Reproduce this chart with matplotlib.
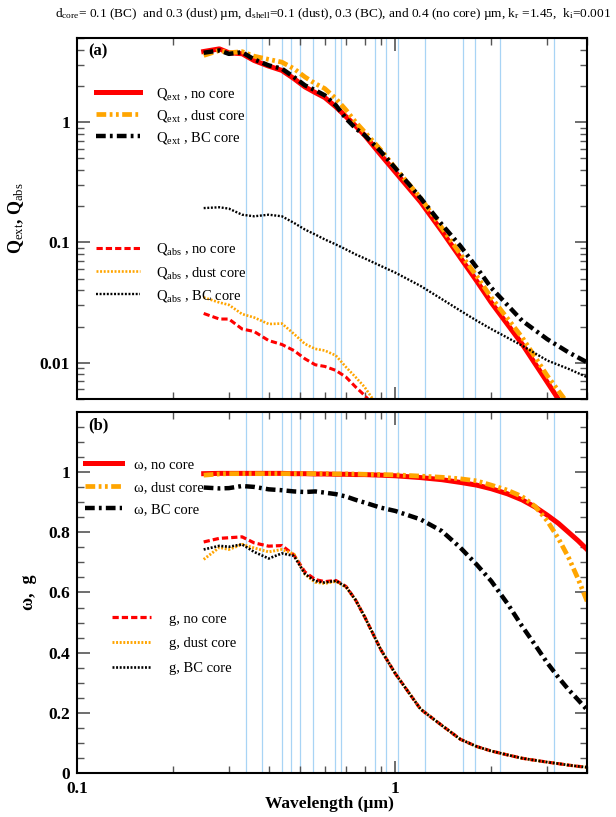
import numpy as np
import matplotlib
matplotlib.use("Agg")
import matplotlib.pyplot as plt
from matplotlib.ticker import LogLocator, FuncFormatter, MultipleLocator, NullFormatter

plt.rcParams['font.family'] = ['Liberation Serif', 'DejaVu Serif']
plt.rcParams['mathtext.fontset'] = 'custom'
plt.rcParams['mathtext.rm'] = 'Liberation Serif'
plt.rcParams['mathtext.it'] = 'Liberation Serif:italic'
plt.rcParams['mathtext.bf'] = 'Liberation Serif:bold'
plt.rcParams['lines.scale_dashes'] = False

# ---- data ----
wl_a = [0.25, 0.28, 0.30, 0.33, 0.36, 0.40, 0.44, 0.48, 0.52, 0.56, 0.60, 0.65, 0.70,
        0.75, 0.80, 0.90, 1.0, 1.2, 1.4, 1.6, 1.8, 2.0, 2.5, 3.0, 3.5, 4.0]

qext_nocore = [3.86, 4.06, 3.77, 3.70, 3.25, 2.92, 2.69, 2.30, 1.96, 1.76, 1.60, 1.34, 1.11,
               0.93, 0.78, 0.534, 0.384, 0.217, 0.124, 0.0747, 0.0479, 0.0317, 0.01435,
               0.0069, 0.0037, 0.0022]
qext_dust = [3.58, 3.94, 3.77, 3.85, 3.53, 3.32, 3.15, 2.78, 2.37, 2.09, 1.90, 1.57, 1.26,
             1.00, 0.83, 0.587, 0.414, 0.234, 0.132, 0.080, 0.0527, 0.0349, 0.0163,
             0.0078, 0.0045, 0.0027]
qext_bc = [3.77, 3.94, 3.69, 3.81, 3.32, 2.96, 2.78, 2.37, 2.02, 1.84, 1.67, 1.38, 1.07,
           0.887, 0.781, 0.57, 0.414, 0.234, 0.141, 0.0935, 0.062, 0.042, 0.0224,
           0.0157, 0.0122, 0.0101]
qabs_nocore = [0.0257, 0.0231, 0.0231, 0.0191, 0.0182, 0.0153, 0.0142, 0.01265, 0.0108,
               0.00963, 0.00933, 0.00865, 0.0076, 0.0063, 0.00537, 0.0038, 0.0028, 0.0016,
               0.001, 0.0007, 0.0005, 0.0004, 0.0003, 0.0002, 0.00015, 0.0001]
qabs_dust = [0.0349, 0.0317, 0.0303, 0.0254, 0.0238, 0.0210, 0.0212, 0.0174, 0.01435,
             0.01305, 0.01265, 0.0115, 0.0092, 0.0076, 0.0063, 0.0040, 0.0030, 0.0017,
             0.0011, 0.0008, 0.0006, 0.0005, 0.0003, 0.0002, 0.00015, 0.0001]
qabs_bc = [0.193, 0.196, 0.191, 0.170, 0.165, 0.170, 0.165, 0.1455, 0.128, 0.1164, 0.106,
           0.0963, 0.0875, 0.0796, 0.0738, 0.0638, 0.0561, 0.0435, 0.0338, 0.0271, 0.0224,
           0.0191, 0.0139, 0.01045, 0.0089, 0.0076]

wl_b = [0.25, 0.28, 0.30, 0.33, 0.36, 0.40, 0.44, 0.48, 0.52, 0.56, 0.60, 0.65, 0.70,
        0.75, 0.80, 0.90, 1.0, 1.2, 1.4, 1.6, 1.8, 2.0, 2.25, 2.5, 2.75, 3.0, 3.25, 3.5,
        3.75, 4.0]

w_nocore = [0.995, 0.996, 0.996, 0.996, 0.996, 0.996, 0.996, 0.995, 0.995, 0.994, 0.994,
            0.993, 0.993, 0.992, 0.992, 0.990, 0.988, 0.982, 0.975, 0.966, 0.957, 0.945,
            0.928, 0.908, 0.884, 0.857, 0.83, 0.80, 0.772, 0.743]
w_dust = [0.99, 0.994, 0.995, 0.995, 0.995, 0.995, 0.995, 0.995, 0.995, 0.995, 0.995,
          0.994, 0.994, 0.994, 0.993, 0.992, 0.991, 0.987, 0.983, 0.978, 0.971, 0.957,
          0.94, 0.919, 0.886, 0.838, 0.78, 0.716, 0.645, 0.571]
w_bc = [0.949, 0.946, 0.947, 0.954, 0.951, 0.943, 0.94, 0.936, 0.934, 0.936, 0.932, 0.927,
        0.919, 0.908, 0.899, 0.882, 0.871, 0.843, 0.804, 0.749, 0.693, 0.638, 0.563, 0.488,
        0.425, 0.366, 0.318, 0.277, 0.243, 0.21]
g_nocore = [0.768, 0.78, 0.782, 0.785, 0.765, 0.754, 0.756, 0.725, 0.668, 0.643, 0.636,
            0.64, 0.62, 0.575, 0.52, 0.41, 0.33, 0.212, 0.158, 0.112, 0.088, 0.073, 0.06,
            0.049, 0.042, 0.036, 0.031, 0.026, 0.022, 0.019]
g_dust = [0.71, 0.75, 0.743, 0.76, 0.748, 0.735, 0.743, 0.728, 0.66, 0.634, 0.63, 0.637,
          0.618, 0.575, 0.52, 0.41, 0.33, 0.212, 0.158, 0.112, 0.088, 0.073, 0.06, 0.049,
          0.042, 0.036, 0.031, 0.026, 0.022, 0.019]
g_bc = [0.743, 0.755, 0.752, 0.76, 0.735, 0.713, 0.73, 0.722, 0.662, 0.638, 0.633, 0.639,
        0.619, 0.575, 0.52, 0.41, 0.33, 0.212, 0.158, 0.112, 0.088, 0.073, 0.06, 0.049,
        0.042, 0.036, 0.031, 0.026, 0.022, 0.019]

# satellite channel wavelengths (um)
bands = [0.34, 0.38, 0.44, 0.47, 0.50, 0.55, 0.645, 0.675, 0.86, 0.935, 1.02, 1.24,
         1.63, 1.78, 2.13, 3.16]

RED = '#ff0000'
ORANGE = '#ffa500'
BLUE = '#a8d4f5'

solid = dict(ls='-')
dashdotdot = dict(dashes=(7, 2.5, 2, 2.5, 2, 2.5))
dashdot = dict(dashes=(7, 3, 2, 3))
dashed = dict(dashes=(4.5, 2.2))
dotted = dict(dashes=(1.4, 1.2))

fig = plt.figure(figsize=(6.16, 8.17), dpi=100)
ax1 = fig.add_axes([0.125, 0.5116, 0.828, 0.4419])
ax2 = fig.add_axes([0.125, 0.0539, 0.828, 0.4418])

for ax in (ax1, ax2):
    for b in bands:
        ax.axvline(b, color=BLUE, lw=0.9, zorder=1)

h1 = ax1.plot(wl_a, qext_nocore, color=RED, lw=3.6, **solid, label=r'Q$_{\rm ext}$ , no core')
h2 = ax1.plot(wl_a, qext_dust, color=ORANGE, lw=3.4, **dashdotdot, label=r'Q$_{\rm ext}$ , dust core')
h3 = ax1.plot(wl_a, qext_bc, color='k', lw=3.2, **dashdot, label=r'Q$_{\rm ext}$ , BC core')
h4 = ax1.plot(wl_a, qabs_nocore, color=RED, lw=2.2, **dashed, label=r'Q$_{\rm abs}$ , no core')
h5 = ax1.plot(wl_a, qabs_dust, color=ORANGE, lw=1.9, **dotted, label=r'Q$_{\rm abs}$ , dust core')
h6 = ax1.plot(wl_a, qabs_bc, color='k', lw=1.7, **dotted, label=r'Q$_{\rm abs}$ , BC core')

k1 = ax2.plot(wl_b, w_nocore, color=RED, lw=3.6, **solid, label='ω, no core')
k2 = ax2.plot(wl_b, w_dust, color=ORANGE, lw=3.4, **dashdotdot, label='ω, dust core')
k3 = ax2.plot(wl_b, w_bc, color='k', lw=3.2, **dashdot, label='ω, BC core')
k4 = ax2.plot(wl_b, g_nocore, color=RED, lw=2.3, **dashed, label='g, no core')
k5 = ax2.plot(wl_b, g_dust, color=ORANGE, lw=2.1, **dotted, label='g, dust core')
k6 = ax2.plot(wl_b, g_bc, color='k', lw=1.9, **dotted, label='g, BC core')

fmt = FuncFormatter(lambda v, p: '%g' % v)
fmt_b = FuncFormatter(lambda v, p: '' if v > 1.1 else '%g' % round(v, 2))
for ax in (ax1, ax2):
    ax.set_xscale('log')
    ax.set_xlim(0.1, 4.0)
    ax.xaxis.set_major_locator(LogLocator(base=10))
    ax.xaxis.set_minor_locator(LogLocator(base=10, subs=np.arange(2, 10)))
    ax.xaxis.set_major_formatter(fmt)
    ax.xaxis.set_minor_formatter(NullFormatter())
    ax.tick_params(which='both', direction='in', top=True, right=True, color='#555555')
    ax.tick_params(which='major', length=9, width=1.2, labelsize=12.5, pad=5)
    ax.tick_params(which='minor', length=5, width=1.0)
    for s in ax.spines.values():
        s.set_linewidth(1.5)

ax1.set_yscale('log')
ax1.set_ylim(0.005, 5)
ax1.yaxis.set_major_locator(LogLocator(base=10))
ax1.yaxis.set_minor_locator(LogLocator(base=10, subs=np.arange(2, 10)))
ax1.yaxis.set_major_formatter(fmt)
ax1.yaxis.set_minor_formatter(NullFormatter())
ax1.tick_params(axis='x', labelbottom=False)

ax2.set_ylim(0, 1.2)
ax2.yaxis.set_major_locator(MultipleLocator(0.2))
ax2.yaxis.set_minor_locator(MultipleLocator(0.05))
ax2.yaxis.set_major_formatter(fmt_b)
ax2.tick_params(axis='x', which='major', pad=6)

for ax in (ax1, ax2):
    for lab in ax.get_xticklabels() + ax.get_yticklabels():
        lab.set_fontweight('bold')

ax1.set_ylabel(r'Q$_{\rm ext}$, Q$_{\rm abs}$', fontsize=13, fontweight='bold', labelpad=10)
ax2.set_ylabel('ω,  g', fontsize=13, fontweight='bold', labelpad=8)
ax2.set_xlabel('Wavelength (µm)', fontsize=12.5, fontweight='bold')
ax2.xaxis.set_label_coords(0.495, -0.064)

ax1.text(0.022, 0.985, '(a)', transform=ax1.transAxes, fontsize=12, fontweight='bold', va='top')
ax2.text(0.022, 0.985, '(b)', transform=ax2.transAxes, fontsize=12, fontweight='bold', va='top')

leg_kw = dict(frameon=False, fontsize=10.5, handlelength=3.0, handletextpad=1.1,
              labelspacing=0.55, borderpad=0, borderaxespad=0, loc='upper left')
la = ax1.legend(handles=h1 + h2 + h3, bbox_to_anchor=(0.038, 0.868),
                **dict(leg_kw, labelspacing=0.42))
ax1.add_artist(la)
ax1.legend(handles=h4 + h5 + h6, bbox_to_anchor=(0.038, 0.437),
           **dict(leg_kw, labelspacing=0.5))

lb = ax2.legend(handles=k1 + k2 + k3, bbox_to_anchor=(0.016, 0.872),
                **dict(leg_kw, handlelength=2.55, handletextpad=0.8, labelspacing=0.64))
ax2.add_artist(lb)
ax2.legend(handles=k4 + k5 + k6, bbox_to_anchor=(0.068, 0.445),
           **dict(leg_kw, handlelength=2.7, handletextpad=1.2, labelspacing=0.78))

fig.text(0.541, 0.983, r'd$_{\rm core}$= 0.1 (BC)  and 0.3 (dust) µm, d$_{\rm shell}$=0.1 (dust), '
         r'0.3 (BC), and 0.4 (no core) µm, k$_{\rm r}$ =1.45,  k$_{\rm i}$=0.001',
         ha='center', va='center', fontsize=9.6)

fig.savefig('out.png', dpi=100)
